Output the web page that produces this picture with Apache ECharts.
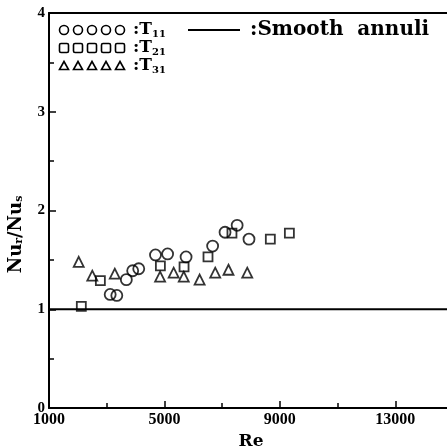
<!DOCTYPE html>
<html>
<head>
<meta charset="utf-8">
<script src="https://cdn.jsdelivr.net/npm/echarts@6/dist/echarts.min.js"></script>
<style>
  html, body { margin: 0; padding: 0; background: #fff; }
  #chart { width: 447px; height: 446px; }
</style>
</head>
<body>
<div id="chart"></div>
<script>
// T11 (circles)
const t11Re = [3120, 3350, 3680, 3900, 4110, 4690, 5110, 5750, 6670, 7100, 7520, 7930]
const t11Nu = [1.15, 1.14, 1.30, 1.39, 1.41, 1.55, 1.56, 1.53, 1.64, 1.78, 1.85, 1.71]
// T21 (squares)
const t21Re = [2120, 2780, 4860, 5680, 6510, 7340, 8670, 9330]
const t21Nu = [1.03, 1.29, 1.44, 1.43, 1.53, 1.77, 1.71, 1.77]
// T31 (triangles)
const t31Re = [2030, 2500, 3280, 4850, 5320, 5670, 6220, 6760, 7220, 7870]
const t31Nu = [1.48, 1.34, 1.36, 1.33, 1.37, 1.33, 1.30, 1.37, 1.40, 1.37]
// smooth annuli reference
const smoothRe = [1000, 15000]
const smoothNu = [1, 1]

const xTicks = { min: 1000, max: 15000, interval: 4000 }
const yTicks = { min: 0, max: 4, interval: 1 }

const FONT = '"DejaVu Serif", "Liberation Serif", serif'
const TICKFONT = '"Liberation Serif", "DejaVu Serif", serif'
const pair = (xs, ys) => xs.map((x, i) => [x, ys[i]])

const chart = echarts.init(document.getElementById('chart'))

const markerStyle = { color: 'transparent', borderColor: '#000', borderWidth: 1.8 }
const legendStroke = { fill: 'none', stroke: '#000', lineWidth: 1.6 }

// legend: five marker glyphs + label per row
function legendRow(kind, cy, sub) {
  const els = []
  for (let i = 0; i < 5; i++) {
    const cx = 64 + i * 14
    if (kind === 'circle') els.push({ type: 'circle', shape: { cx, cy, r: 4.5 }, style: legendStroke })
    if (kind === 'rect') els.push({ type: 'rect', shape: { x: cx - 4.5, y: cy - 4.5, width: 9, height: 9, r: 1.5 }, style: legendStroke })
    if (kind === 'tri') els.push({ type: 'polygon', shape: { points: [[cx, cy - 4.5], [cx + 4.5, cy + 3.5], [cx - 4.5, cy + 3.5]] }, style: legendStroke })
  }
  els.push({
    type: 'text', x: 133, y: cy, style: {
      text: ':T{s|' + sub + '}', font: 'bold 17px ' + FONT, fill: '#000', verticalAlign: 'middle',
      rich: { s: { font: 'bold 10px ' + FONT, fill: '#000', padding: [9, 0, 0, 0] } }
    }
  })
  return els
}

chart.setOption({
  animation: false,
  backgroundColor: '#fff',
  grid: { left: 49, top: 13, width: 404, bottom: 38, outerBoundsMode: 'none', containLabel: false },
  xAxis: [{
    type: 'value',
    min: xTicks.min, max: xTicks.max, interval: xTicks.interval,
    name: 'Re', nameLocation: 'middle', nameGap: 21,
    nameTextStyle: { fontFamily: FONT, fontWeight: 'bold', fontSize: 17, color: '#000', verticalAlign: 'top' },
    axisLine: { lineStyle: { color: '#000', width: 2 } },
    axisTick: { inside: true, length: 7, lineStyle: { color: '#000', width: 1.5 } },
    minorTick: { show: true, splitNumber: 2, length: 5, lineStyle: { color: '#000', width: 1.5 } },
    splitLine: { show: false },
    axisLabel: { fontFamily: TICKFONT, fontWeight: 'bold', fontSize: 16, color: '#000', margin: 4, showMaxLabel: false, formatter: v => String(v) }
  }, {
    type: 'value', position: 'top',
    min: xTicks.min, max: xTicks.max,
    axisLine: { lineStyle: { color: '#000', width: 2 } },
    axisTick: { show: false }, axisLabel: { show: false }, splitLine: { show: false }
  }],
  yAxis: {
    type: 'value',
    min: yTicks.min, max: yTicks.max, interval: yTicks.interval,
    name: 'Nu{s|r}/Nu{s|s}', nameLocation: 'middle', nameGap: 24, nameRotate: 90,
    nameTextStyle: {
      fontFamily: FONT, fontWeight: 'bold', fontSize: 18, color: '#000', padding: [0, 48, 0, 0],
      rich: { s: { fontFamily: FONT, fontWeight: 'bold', fontSize: 11, color: '#000', verticalAlign: 'bottom', padding: [6, 0, 0, 0] } }
    },
    axisLine: { lineStyle: { color: '#000', width: 2 } },
    axisTick: { inside: true, length: 7, lineStyle: { color: '#000', width: 1.5 } },
    minorTick: { show: true, splitNumber: 2, length: 5, lineStyle: { color: '#000', width: 1.5 } },
    splitLine: { show: false },
    axisLabel: { fontFamily: TICKFONT, fontWeight: 'bold', fontSize: 15, color: '#000', margin: 4 }
  },
  graphic: [
    ...legendRow('circle', 30, '11'),
    ...legendRow('rect', 48, '21'),
    ...legendRow('tri', 66, '31'),
    { type: 'line', shape: { x1: 188, y1: 30, x2: 240, y2: 30 }, style: { stroke: '#000', lineWidth: 2 } },
    { type: 'text', x: 250, y: 30, style: { text: ':Smooth  annuli', font: 'bold 20px ' + FONT, fill: '#000', verticalAlign: 'middle' } }
  ],
  series: [
    { name: 'T11', type: 'scatter', symbol: 'circle', symbolSize: 11, data: pair(t11Re, t11Nu), itemStyle: markerStyle },
    { name: 'T21', type: 'scatter', symbol: 'rect', symbolSize: 9, data: pair(t21Re, t21Nu), itemStyle: markerStyle },
    { name: 'T31', type: 'scatter', symbol: 'triangle', symbolSize: 10, data: pair(t31Re, t31Nu), itemStyle: markerStyle },
    { name: 'Smooth annuli', type: 'line', symbol: 'none', data: pair(smoothRe, smoothNu), lineStyle: { color: '#000', width: 2 } }
  ]
})
</script>
</body>
</html>
